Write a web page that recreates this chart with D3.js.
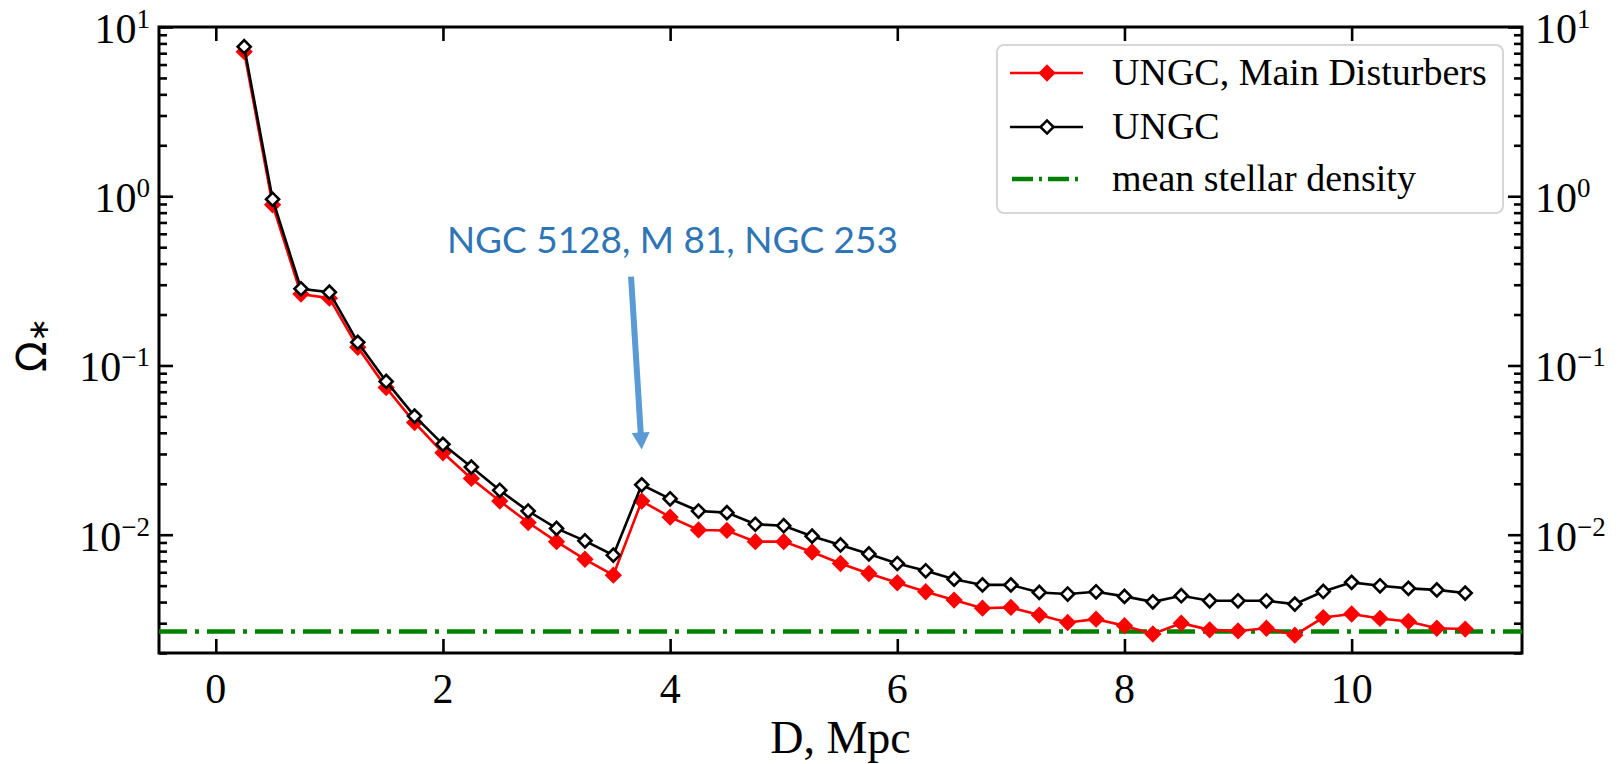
<!DOCTYPE html>
<html>
<head>
<meta charset="utf-8">
<script src="https://cdn.jsdelivr.net/npm/d3@7"></script>
<style>
  body { margin: 0; background: #fff; }
  svg { display: block; }
  .tick text { display: none; }
</style>
</head>
<body>
<div id="chart"></div>
<script>
// distance bins, Mpc
var distances = [0.25, 0.5, 0.75, 1.0, 1.25, 1.5, 1.75, 2.0, 2.25, 2.5, 2.75, 3.0,
  3.25, 3.5, 3.75, 4.0, 4.25, 4.5, 4.75, 5.0, 5.25, 5.5, 5.75, 6.0,
  6.25, 6.5, 6.75, 7.0, 7.25, 7.5, 7.75, 8.0, 8.25, 8.5, 8.75, 9.0,
  9.25, 9.5, 9.75, 10.0, 10.25, 10.5, 10.75, 11.0];

// UNGC, main disturbers (red)
var mainDisturbers = [7.15, 0.89, 0.264, 0.25, 0.128, 0.074, 0.046, 0.0305, 0.0215, 0.0158, 0.0118, 0.0091,
  0.00716, 0.00577, 0.0158, 0.0127, 0.01067, 0.0106, 0.0091, 0.0091, 0.0079, 0.00676, 0.0059, 0.0052,
  0.0046, 0.00411, 0.00368, 0.00372, 0.00335, 0.00303, 0.00317, 0.0029, 0.00259, 0.003, 0.00274, 0.0027,
  0.0028, 0.00255, 0.00324, 0.0034, 0.0032, 0.00307, 0.0028, 0.00277];

// UNGC (black, open)
var ungc = [7.65, 0.96, 0.284, 0.271, 0.137, 0.0805, 0.0502, 0.0342, 0.0251, 0.0183, 0.0138, 0.0109,
  0.0092, 0.00757, 0.0197, 0.0163, 0.0138, 0.0135, 0.01153, 0.0113, 0.0098, 0.0087, 0.0077, 0.00676,
  0.00612, 0.00546, 0.00505, 0.00505, 0.00456, 0.00446, 0.0046, 0.00432, 0.00401, 0.00436, 0.00407, 0.00407,
  0.00407, 0.00389, 0.00462, 0.00523, 0.00499, 0.00482, 0.00472, 0.00452];

var meanDensity = 0.00268;

var xTicks = [0, 2, 4, 6, 8, 10];
var yTicks = [10, 1, 0.1, 0.01];
var yExponents = ["1", "0", "\u22121", "\u22122"];
var legendLabels = ["UNGC, Main Disturbers", "UNGC", "mean stellar density"];
var annotationText = "NGC 5128, M 81, NGC 253";

var W = 1621, H = 764;
var margin = {left: 159, right: 99, top: 27, bottom: 111};

var svg = d3.select("#chart").append("svg")
  .attr("width", W)
  .attr("height", H);

var x = d3.scaleLinear().domain([-0.5, 11.5]).range([margin.left, W - margin.right]);
var y = d3.scaleLog().domain([0.002, 10]).range([H - margin.bottom, margin.top]);

var serif = "'Liberation Serif', 'Times New Roman', serif";

// minor y ticks 2..9 in every decade
var yMinor = [];
[0.001, 0.01, 0.1, 1].forEach(function(dec) {
  for (var k = 2; k <= 9; k++) {
    var v = dec * k;
    if (v >= 0.002 && v <= 10) yMinor.push(v);
  }
});

function styleAxis(g) {
  g.select(".domain").remove();
  g.selectAll(".tick line").attr("stroke", "#000").attr("stroke-width", 2.6);
}

// ticks pointing inward on all four sides
svg.append("g").attr("transform", "translate(" + x.range()[0] + ",0)")
  .call(d3.axisRight(y).tickValues(yTicks).tickSize(14).tickFormat("")).call(styleAxis);
svg.append("g").attr("transform", "translate(" + x.range()[0] + ",0)")
  .call(d3.axisRight(y).tickValues(yMinor).tickSize(8).tickFormat("")).call(styleAxis);
svg.append("g").attr("transform", "translate(" + x.range()[1] + ",0)")
  .call(d3.axisLeft(y).tickValues(yTicks).tickSize(14).tickFormat("")).call(styleAxis);
svg.append("g").attr("transform", "translate(" + x.range()[1] + ",0)")
  .call(d3.axisLeft(y).tickValues(yMinor).tickSize(8).tickFormat("")).call(styleAxis);
svg.append("g").attr("transform", "translate(0," + y.range()[0] + ")")
  .call(d3.axisTop(x).tickValues(xTicks).tickSize(14).tickFormat("")).call(styleAxis);
svg.append("g").attr("transform", "translate(0," + y.range()[1] + ")")
  .call(d3.axisBottom(x).tickValues(xTicks).tickSize(14).tickFormat("")).call(styleAxis);

// frame
svg.append("rect")
  .attr("x", x.range()[0]).attr("y", y.range()[1])
  .attr("width", x.range()[1] - x.range()[0])
  .attr("height", y.range()[0] - y.range()[1])
  .attr("fill", "none").attr("stroke", "#000").attr("stroke-width", 3);

// x tick labels
svg.append("g").selectAll("text")
  .data(xTicks).enter().append("text")
  .attr("x", function(d) { return x(d); })
  .attr("y", y.range()[0] + 50)
  .attr("text-anchor", "middle")
  .attr("font-family", serif)
  .attr("font-size", 42)
  .text(function(d) { return d; });

// y tick labels, left and right
function powerLabels(xpos, anchor) {
  var t = svg.append("g").selectAll("text")
    .data(yTicks).enter().append("text")
    .attr("x", xpos)
    .attr("y", function(d) { return y(d) + 16; })
    .attr("text-anchor", anchor)
    .attr("font-family", serif)
    .attr("font-size", 42);
  t.append("tspan").text("10");
  t.append("tspan")
    .attr("dy", -15)
    .attr("font-size", 27)
    .text(function(d, i) { return yExponents[i]; });
}
powerLabels(x.range()[0] - 9, "end");
powerLabels(x.range()[1] + 13, "start");

// axis titles
svg.append("text")
  .attr("x", (x.range()[0] + x.range()[1]) / 2)
  .attr("y", 753)
  .attr("text-anchor", "middle")
  .attr("font-family", serif)
  .attr("font-size", 46)
  .text("D, Mpc");

var ylab = svg.append("text")
  .attr("transform", "translate(46,345) rotate(-90)")
  .attr("text-anchor", "middle")
  .attr("font-family", "'DejaVu Sans', sans-serif")
  .attr("font-size", 40);
ylab.append("tspan").text("\u03A9");
ylab.append("tspan").attr("font-size", 28).attr("dy", 2).text("\u2217");

// mean stellar density
svg.append("line")
  .attr("x1", x.range()[0]).attr("x2", x.range()[1])
  .attr("y1", y(meanDensity)).attr("y2", y(meanDensity))
  .attr("stroke", "#008000").attr("stroke-width", 4.5)
  .attr("stroke-dasharray", "28,8,4,8");

var line = d3.line()
  .x(function(d) { return x(d[0]); })
  .y(function(d) { return y(d[1]); });

var redPts = distances.map(function(d, i) { return [d, mainDisturbers[i]]; });
var blackPts = distances.map(function(d, i) { return [d, ungc[i]]; });

var redMarker = d3.symbol(d3.symbolSquare, 150);
var blackMarker = d3.symbol(d3.symbolSquare, 85);

svg.append("path").datum(redPts)
  .attr("d", line).attr("fill", "none")
  .attr("stroke", "#ff0000").attr("stroke-width", 2.6);
svg.append("g").selectAll("path")
  .data(redPts).enter().append("path")
  .attr("d", redMarker)
  .attr("transform", function(d) { return "translate(" + x(d[0]) + "," + y(d[1]) + ") rotate(45)"; })
  .attr("fill", "#ff0000");

svg.append("path").datum(blackPts)
  .attr("d", line).attr("fill", "none")
  .attr("stroke", "#000").attr("stroke-width", 2.6);
svg.append("g").selectAll("path")
  .data(blackPts).enter().append("path")
  .attr("d", blackMarker)
  .attr("transform", function(d) { return "translate(" + x(d[0]) + "," + y(d[1]) + ") rotate(45)"; })
  .attr("fill", "#fff").attr("stroke", "#000").attr("stroke-width", 2.6);

// legend
var legend = svg.append("g").attr("class", "legend");
legend.append("rect")
  .attr("x", 997).attr("y", 45)
  .attr("width", 506).attr("height", 168)
  .attr("rx", 7)
  .attr("fill", "#fff").attr("fill-opacity", 0.8)
  .attr("stroke", "#d6d6d6").attr("stroke-width", 2);

var rows = [73, 127, 179];
var handles = legend.selectAll("g.row").data(legendLabels).enter().append("g")
  .attr("class", "row")
  .attr("transform", function(d, i) { return "translate(0," + rows[i] + ")"; });

handles.append("line")
  .attr("x1", function(d, i) { return i === 2 ? 1012 : 1010; })
  .attr("x2", 1083)
  .attr("stroke", function(d, i) { return ["#ff0000", "#000", "#008000"][i]; })
  .attr("stroke-width", function(d, i) { return i === 2 ? 4.5 : 2.6; })
  .attr("stroke-dasharray", function(d, i) { return i === 2 ? "21,6,3,6" : null; });

handles.filter(function(d, i) { return i === 0; }).append("path")
  .attr("d", redMarker)
  .attr("transform", "translate(1047,0) rotate(45)")
  .attr("fill", "#ff0000");
handles.filter(function(d, i) { return i === 1; }).append("path")
  .attr("d", blackMarker)
  .attr("transform", "translate(1047,0) rotate(45)")
  .attr("fill", "#fff").attr("stroke", "#000").attr("stroke-width", 2.6);

handles.append("text")
  .attr("x", 1112).attr("y", 12)
  .attr("font-family", serif)
  .attr("font-size", 38)
  .text(function(d) { return d; });

// annotation
var note = svg.append("text")
  .attr("x", x(2.035)).attr("y", y(0.464))
  .attr("font-family", "Lato, 'Open Sans', sans-serif")
  .attr("font-size", 40)
  .attr("fill", "#2e75b6")
  .text(annotationText);
var len = note.node().getComputedTextLength();
note.attr("font-size", 40 * 451 / len);

var tail = [x(3.656), y(0.335)];
var tip = [x(3.75), y(0.0319)];
var dx = tip[0] - tail[0], dy = tip[1] - tail[1];
var L = Math.sqrt(dx * dx + dy * dy);
var ux = dx / L, uy = dy / L;
var headLen = 17, headHalf = 9;
var base = [tip[0] - ux * headLen, tip[1] - uy * headLen];
svg.append("line")
  .attr("x1", tail[0]).attr("y1", tail[1])
  .attr("x2", base[0] + ux * 1).attr("y2", base[1] + uy * 1)
  .attr("stroke", "#5b9bd5").attr("stroke-width", 6);
svg.append("path")
  .attr("d", "M" + tip[0] + "," + tip[1] +
    "L" + (base[0] - uy * headHalf) + "," + (base[1] + ux * headHalf) +
    "L" + (base[0] + uy * headHalf) + "," + (base[1] - ux * headHalf) + "Z")
  .attr("fill", "#5b9bd5");
</script>
</body>
</html>
